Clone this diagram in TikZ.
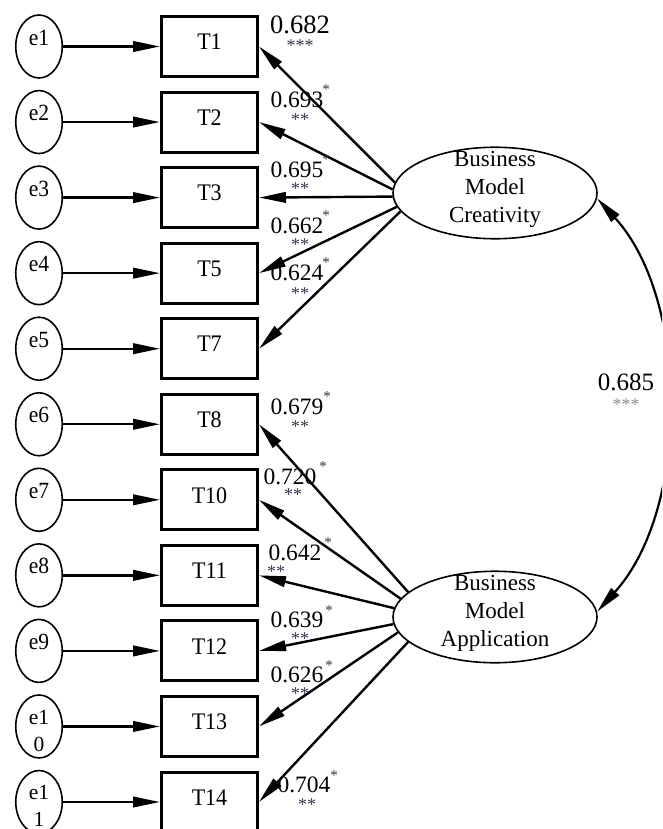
\documentclass[tikz,border=0pt]{standalone}
\usepackage{fontspec}
\setmainfont{Liberation Serif}
\usetikzlibrary{arrows.meta,shapes.geometric}
\definecolor{starc}{RGB}{62,48,78}
\definecolor{stargray}{RGB}{140,140,150}
\newcommand\vs[2]{\scalebox{1}[#1]{#2}}
\begin{document}
\begin{tikzpicture}[x=1pt,y=-1pt,
  tbox/.style={draw,line width=3pt,rectangle,minimum width=96pt,minimum height=60pt,inner sep=0pt,font=\fontsize{22}{22}\selectfont},
  eell/.style={draw,ellipse,line width=1.6pt,minimum width=46.5pt,minimum height=63pt,inner sep=0pt},
  elab/.style={font=\fontsize{21.5}{27}\selectfont,inner sep=0pt,align=center},
  lat/.style={draw,ellipse,line width=1.6pt,minimum width=204pt,minimum height=91.5pt,inner sep=0pt},
  latlab/.style={font=\fontsize{23}{28}\selectfont,align=center,inner sep=0pt},
  arr/.style={line width=2.4pt,-{Triangle[length=27pt,width=10.5pt]}},
  dblarr/.style={line width=2.2pt,{Triangle[length=27pt,width=10.5pt]}-{Triangle[length=27pt,width=10.5pt]}},
  num/.style={inner sep=0pt,font=\fontsize{23.5}{23.5}\selectfont},
  supstar/.style={inner sep=0pt,font=\fontsize{15}{15}\selectfont,text=starc},
  stars/.style={inner sep=0pt,font=\fontsize{18}{18}\selectfont,text=starc}]
\clip (0,0) rectangle (662,829);
\fill[white] (0,0) rectangle (662,829);

% rows of indicators and errors
\foreach \i/\t in {0/1,1/2,2/3,3/5,4/7,5/8,6/10,7/11,8/12,9/13,10/14} {
  \pgfmathsetmacro\yy{46.5+75.55*\i}
  \pgfmathtruncatemacro\k{\i+1}
  \node[tbox] (T\t) at (209.5,\yy) {\raisebox{4.5pt}[\height][\depth]{\vs{1.08}{T\t}}};
  \node[eell] (e\k) at (39,\yy) {};
  \draw[arr] (e\k) -- (T\t);
}
\foreach \i in {0,...,8} {
  \pgfmathsetmacro\yy{46.5+75.55*\i-9}
  \pgfmathtruncatemacro\k{\i+1}
  \node[elab] (el\k) at (39,\yy) {\vs{1.08}{e\k}};
}
\node[elab] (el10) at (39,730.5) {e1\\0};
\node[elab] (el11) at (39,806) {e1\\1};

% latent variables
\node[lat] (BMC) at (495,193) {};
\node[latlab] (BMCt) at (495,189) {Business\\Model\\Creativity};
\node[lat] (BMA) at (495,617) {};
\node[latlab] (BMAt) at (495,613) {Business\\Model\\Application};

% loadings
\draw[arr] (BMC.174) -- (T1.east);
\draw[arr] (BMC.178) -- (T2.east);
\draw[arr] (BMC.182) -- (T3.east);
\draw[arr] (BMC.188) -- (T5.east);
\draw[arr] (BMC.191) -- (T7.east);
\draw[arr] (BMA.164) -- (T8.east);
\draw[arr] (BMA.169) -- (T10.east);
\draw[arr] (BMA.175) -- (T11.east);
\draw[arr] (BMA.184) -- (T12.east);
\draw[arr] (BMA.189) -- (T13.east);
\draw[arr] (BMA.196) -- (T14.east);

% covariance
\draw[dblarr] (BMC.-3) .. controls (690,300) and (690,509) .. (BMA.3);

% loading labels
\node[num,font=\fontsize{26.5}{26.5}\selectfont] (n1) at (300,25) {0.682};
\node[stars] (s1) at (300,46) {***};

\node[num] (n2) at (297,100) {0.693};
\node[supstar] (p2) at (326,90) {*};
\node[stars] (s2) at (300,120) {**};

\node[num] (n3) at (297,170) {0.695};
\node[supstar] (p3) at (326,160) {*};
\node[stars] (s3) at (300,189) {**};

\node[num] (n4) at (297,226) {0.662};
\node[supstar] (p4) at (326,216) {*};
\node[stars] (s4) at (300,245) {**};

\node[num] (n5) at (297,273) {0.624};
\node[supstar] (p5) at (326,263) {*};
\node[stars] (s5) at (300,294) {**};

\node[num] (n6) at (297,407) {0.679};
\node[supstar] (p6) at (327,397) {*};
\node[stars] (s6) at (300,427) {**};

\node[num] (n7) at (290,477) {0.720};
\node[supstar] (p7) at (323,467) {*};
\node[stars] (s7) at (293,495) {**};

\node[num] (n8) at (295,553) {0.642};
\node[supstar] (p8) at (328,543) {*};
\node[stars] (s8) at (276,572) {**};

\node[num] (n9) at (297,620) {0.639};
\node[supstar] (p9) at (329,611) {*};
\node[stars] (s9) at (300,639) {**};

\node[num] (n10) at (297,675) {0.626};
\node[supstar] (p10) at (329,666) {*};
\node[stars] (s10) at (300,694) {**};

\node[num] (n11) at (304,785) {0.704};
\node[supstar] (p11) at (334,776) {*};
\node[stars] (s11) at (307,805) {**};

\node[num,font=\fontsize{25}{25}\selectfont] (n12) at (626,382) {0.685};
\node[stars,text=stargray] (s12) at (626,405) {***};
\end{tikzpicture}
\end{document}
